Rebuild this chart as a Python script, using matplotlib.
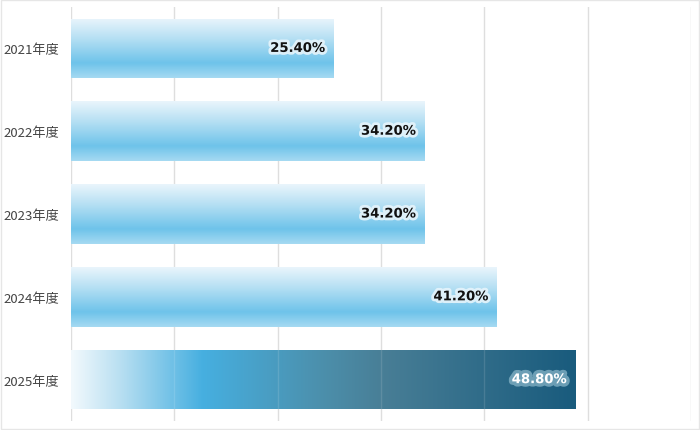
import numpy as np
import matplotlib
matplotlib.use("Agg")
import matplotlib.pyplot as plt
import matplotlib.patheffects as pe
from matplotlib.colors import LinearSegmentedColormap

# data
years = ["2021年度", "2022年度", "2023年度", "2024年度", "2025年度"]
rates = [25.4, 34.2, 34.2, 41.2, 48.8]
labels = ["25.40%", "34.20%", "34.20%", "41.20%", "48.80%"]
grid_ticks = [0, 10, 20, 30, 40, 50, 60]

plt.rcParams["font.family"] = ["Noto Sans CJK JP", "DejaVu Sans"]

fig = plt.figure(figsize=(7, 4.31), dpi=100)
ax = fig.add_axes([71 / 700, 9 / 431, 620 / 700, 414 / 431])

# colour ramps
vert = LinearSegmentedColormap.from_list(
    "vert", [(0.0, "#eaf5fc"), (0.35, "#b4dff3"), (0.75, "#6ec3ea"), (1.0, "#a6daf2")])
horiz = LinearSegmentedColormap.from_list(
    "horiz", [(0.0, "#f2f9fd"), (0.1, "#b6def1"), (0.26, "#46afe0"),
              (0.5, "#4c8fab"), (0.62, "#487e96"), (1.0, "#195b7d")])

ypos = np.arange(len(years))
bars = ax.barh(ypos, rates, height=0.72, color="none", edgecolor="none", zorder=2)

for i, b in enumerate(bars):
    x0, y0, w, h = b.get_x(), b.get_y(), b.get_width(), b.get_height()
    last = i == len(bars) - 1
    if last:
        grad = np.linspace(0, 1, 256).reshape(1, -1)
        cmap = horiz
    else:
        grad = np.linspace(0, 1, 256).reshape(-1, 1)
        cmap = vert
    im = ax.imshow(grad, cmap=cmap, aspect="auto", origin="upper",
                   extent=[x0, x0 + w, y0 + h, y0], zorder=2, interpolation="bicubic")
    im.set_clip_path(b)

    if last:
        # faint gridlines show through the dark bar
        for g in grid_ticks[1:]:
            ln = ax.axvline(g, color="white", alpha=0.12, linewidth=1, zorder=3)
            ln.set_clip_path(b)
        ax.text(x0 + w - 0.8, ypos[i], labels[i], ha="right", va="center",
                fontsize=9.5, fontweight="bold", color="white", family="DejaVu Sans",
                zorder=4,
                path_effects=[pe.withStroke(linewidth=5, foreground="#80afc3", alpha=0.8)])
    else:
        ax.text(x0 + w - 0.8, ypos[i], labels[i], ha="right", va="center",
                fontsize=9.5, fontweight="bold", color="#111111", family="DejaVu Sans",
                zorder=4,
                path_effects=[pe.withStroke(linewidth=4, foreground="#e6f4fb", alpha=0.9)])

ax.set_xlim(0, 60)
ax.set_ylim(len(years) - 0.5, -0.5)
ax.set_xticks(grid_ticks)
ax.xaxis.grid(True, color="#dedede", linewidth=1)
ax.set_axisbelow(True)
ax.tick_params(axis="x", length=0, labelbottom=False)
ax.tick_params(axis="y", length=0, pad=8.5, labelsize=9.5, labelcolor="#444444")
ax.set_yticks(ypos)
ax.set_yticklabels(years)
for s in ax.spines.values():
    s.set_visible(False)

# thin frame around the whole figure
fig.patches.append(plt.Rectangle((0.001, 0.002), 0.997, 0.996, transform=fig.transFigure,
                                 fill=False, edgecolor="#e6e6e6", linewidth=1))

fig.savefig("out.png", dpi=100)
